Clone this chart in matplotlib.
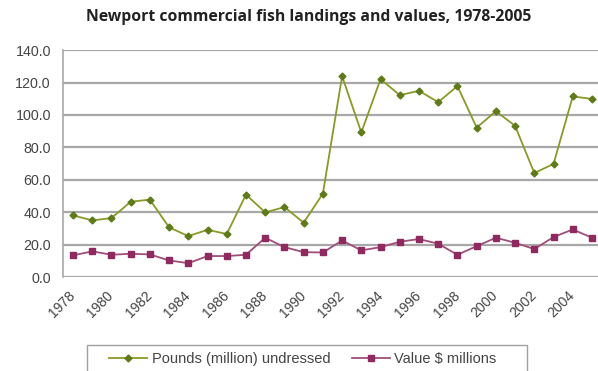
import matplotlib.pyplot as plt
from matplotlib.patches import Rectangle
from matplotlib.transforms import ScaledTranslation

years = list(range(1978, 2006))
pounds = [38.1, 35.0, 36.4, 46.5, 47.8, 30.7, 25.3, 29.2, 26.6, 50.9,
          39.9, 43.2, 33.6, 51.5, 123.9, 89.2, 122.1, 112.2, 114.9, 107.9,
          117.8, 92.2, 102.3, 93.3, 64.2, 69.8, 111.4, 109.9]
value = [13.4, 15.9, 13.8, 14.4, 14.0, 10.3, 8.6, 13.0, 13.0, 13.8,
         24.3, 18.5, 15.4, 15.2, 22.6, 16.5, 18.5, 21.8, 23.5, 20.6,
         13.8, 19.1, 24.3, 21.2, 17.3, 24.7, 29.4, 24.3]
yticks = [0, 20, 40, 60, 80, 100, 120, 140]

W, H = 598, 371
fig = plt.figure(figsize=(W / 100, H / 100), dpi=100)
ax = fig.add_axes([0.106, 0.253, 0.9, 0.612])

x = list(range(len(years)))
ax.plot(x, pounds, color='#8a9a2a', lw=1.3, marker='D', ms=3.5,
        mfc='#5f7a1a', mec='#5f7a1a', label='Pounds (million) undressed')
ax.plot(x, value, color='#a04d7a', lw=1.3, marker='s', ms=5,
        mfc='#8e2a60', mec='#8e2a60', label='Value $ millions')

ax.set_xlim(-0.5, len(years) - 0.5)
ax.set_ylim(0, 140)
ax.set_yticks(yticks)
ax.set_yticklabels(['%.1f' % t for t in yticks], fontsize=10.3, color='#444444',
                   family='Liberation Sans')
ax.set_xticks(x[::2])
ax.set_xticklabels([str(y) for y in years[::2]], rotation=45, ha='right',
                   rotation_mode='anchor', fontsize=10, color='#444444',
                   family='Liberation Sans')
ax.tick_params(axis='y', length=0, pad=9)
ax.tick_params(axis='x', length=0, pad=8)
# nudge the slanted year labels a little to the left
shift = ScaledTranslation(-5 / 100, 0, fig.dpi_scale_trans)
for lbl in ax.get_xticklabels():
    lbl.set_transform(lbl.get_transform() + shift)
ax.yaxis.grid(True, color='#a8a8a8', lw=1.6)
ax.set_axisbelow(True)
for s in ['top', 'right', 'bottom']:
    ax.spines[s].set_visible(False)
ax.spines['left'].set_color('#a8a8a8')
ax.spines['left'].set_linewidth(1.2)

fig.text(0.516, 0.953, 'Newport commercial fish landings and values, 1978-2005',
         ha='center', va='center', fontsize=11.3, fontweight='bold',
         family='Open Sans', color='#222222')

# legend box, runs off the bottom edge
fig.add_artist(Rectangle((87 / W, -0.02), 440 / W, (H - 345) / H + 0.02,
                         transform=fig.transFigure, facecolor='white',
                         edgecolor='#a0a0a0', lw=1.0))
leg = fig.legend(loc='center', bbox_to_anchor=(303 / W, (H - 359) / H), ncol=2,
                 frameon=False, handlelength=2.6, columnspacing=1.5,
                 handletextpad=0.3,
                 prop={'family': 'Liberation Sans', 'size': 10.5})
for t in leg.get_texts():
    t.set_color('#444444')

fig.savefig('out.png', dpi=100)
